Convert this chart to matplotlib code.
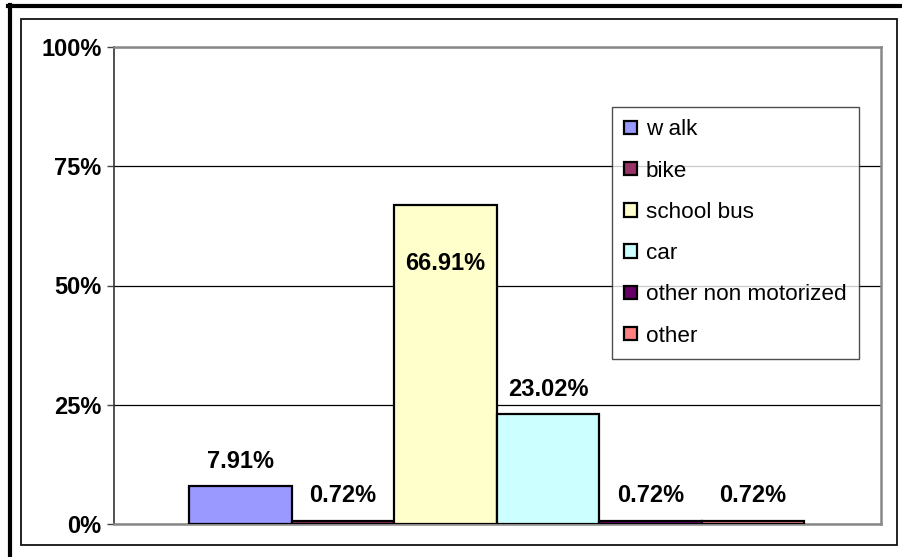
import matplotlib
matplotlib.use("Agg")
import matplotlib.pyplot as plt
from matplotlib.patches import Rectangle
from matplotlib.lines import Line2D
from matplotlib.ticker import FuncFormatter

plt.rcParams['font.family'] = ['Liberation Sans', 'DejaVu Sans']

modes = ['w alk', 'bike', 'school bus', 'car', 'other non motorized', 'other']
shares = [7.91, 0.72, 66.91, 23.02, 0.72, 0.72]
share_labels = ['7.91%', '0.72%', '66.91%', '23.02%', '0.72%', '0.72%']
colors = ['#9999FF', '#993366', '#FFFFCC', '#CCFFFF', '#660066', '#FF8080']
yticks = [0, 25, 50, 75, 100]

W, H = 902, 557
fig = plt.figure(figsize=(W / 100, H / 100), dpi=100)


def px_rect(x0, y0, x1, y1):
    # pixel box (top-left origin) -> figure fraction
    return [x0 / W, 1 - y1 / H, (x1 - x0) / W, (y1 - y0) / H]


ax = fig.add_axes(px_rect(114, 47, 881, 524))

xs = list(range(len(modes)))
bars = ax.bar(xs, shares, width=1.0, color=colors, edgecolor='black',
              linewidth=1.6, label=modes, zorder=3)

# data labels - excel put the big one inside the bar
for b, txt, v in zip(bars, share_labels, shares):
    off = -42 if v > 50 else 18
    ax.annotate(txt, (b.get_x() + b.get_width() / 2, v), xytext=(0, off),
                textcoords='offset points', ha='center', va='center',
                fontsize=17, fontweight='bold', zorder=4)

ax.set_xlim(-0.5 - 0.735, len(modes) - 0.5 + 0.75)
ax.set_ylim(0, 100)
ax.set_yticks(yticks)
ax.yaxis.set_major_formatter(FuncFormatter(lambda v, p: '%d%%' % v))
for t in ax.get_yticklabels():
    t.set_fontweight('bold')
ax.tick_params(axis='y', labelsize=17, length=5, width=1, color='#444444', pad=4)
ax.set_xticks([])

ax.grid(axis='y', color='black', linewidth=0.9, zorder=0)
ax.spines['left'].set_color('#333333')
ax.spines['left'].set_linewidth(1.2)
for s in ['top', 'right', 'bottom']:
    ax.spines[s].set_color('#888888')
    ax.spines[s].set_linewidth(1.8)

leg = ax.legend(loc='upper left', bbox_to_anchor=((612 - 114) / 767, (524 - 107) / 477),
                fontsize=16.2, frameon=True, fancybox=False, edgecolor='#222222',
                handlelength=0.55, handleheight=0.55, handletextpad=0.4,
                labelspacing=0.9, borderpad=0.55, borderaxespad=0)
leg.get_frame().set_linewidth(1.0)
leg.set_zorder(5)
for h in leg.legend_handles:
    h.set_linewidth(1.6)

# chart area frame and the thick page border from the screenshot
fig.add_artist(Rectangle((21 / W, 1 - 545 / H), (897 - 21) / W, (545 - 19) / H,
                         transform=fig.transFigure, fill=False,
                         edgecolor='#111111', linewidth=1.3))
fig.add_artist(Line2D([8 / W, 1], [1 - 6 / H, 1 - 6 / H], transform=fig.transFigure,
                      color='black', linewidth=3))
fig.add_artist(Line2D([9.5 / W, 9.5 / W], [0, 1 - 5 / H], transform=fig.transFigure,
                      color='black', linewidth=3))
# bit of the cut-off title above
fig.text(178 / W, 1 + 11 / H, 'g', fontsize=17, ha='center', va='center')

fig.savefig('out.png', dpi=100)
